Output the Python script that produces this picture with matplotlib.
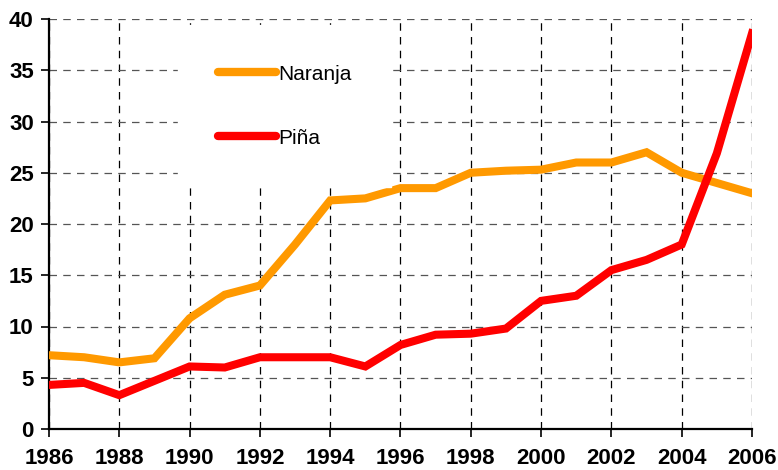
import matplotlib.pyplot as plt

years = list(range(1986, 2007))
naranja = [7.2, 7.0, 6.5, 6.9, 10.8, 13.1, 14.0, 18.0, 22.3, 22.5, 23.5,
           23.5, 25.0, 25.2, 25.3, 26.0, 26.0, 27.0, 25.0, 24.0, 23.0]
pina = [4.3, 4.5, 3.3, 4.7, 6.1, 6.0, 7.0, 7.0, 7.0, 6.1, 8.2,
        9.2, 9.3, 9.8, 12.5, 13.0, 15.5, 16.5, 18.0, 26.9, 38.6]
xticks = list(range(1986, 2007, 2))
yticks = list(range(0, 41, 5))

plt.rcParams['font.family'] = ['Liberation Sans', 'DejaVu Sans']

fig = plt.figure(figsize=(7.78, 4.70), dpi=100)
ax = fig.add_axes([49/778, 41/470, 703/778, 410/470])

ax.plot(years, naranja, color='#FF9900', lw=5.8, label='Naranja',
        solid_joinstyle='miter', zorder=3)
ax.plot(years, pina, color='#FF0000', lw=5.8, label='Piña',
        solid_joinstyle='miter', zorder=3)

ax.set_xlim(1986, 2006)
ax.set_ylim(0, 40)
ax.set_xticks(xticks)
ax.set_yticks(yticks)
ax.tick_params(axis='both', labelsize=16, length=6, width=1.2, direction='out')
ax.tick_params(axis='x', pad=8)
ax.tick_params(axis='y', pad=5)
for lab in ax.get_xticklabels() + ax.get_yticklabels():
    lab.set_fontweight('bold')

ax.set_axisbelow(True)
ax.yaxis.grid(True, color='#555555', linestyle=(0, (6, 5)), lw=0.9)
ax.xaxis.grid(True, color='black', linestyle=(0, (6, 5)), lw=0.9)

for s in ['top', 'right']:
    ax.spines[s].set_visible(False)
for s in ['left', 'bottom']:
    ax.spines[s].set_linewidth(1.6)

leg = ax.legend(loc='upper left', bbox_to_anchor=(178/778, 445/470),
                bbox_transform=fig.transFigure, borderaxespad=0,
                fontsize=15, handlelength=2.8, handletextpad=0.1,
                labelspacing=2.16, borderpad=1.9, frameon=True,
                fancybox=False, facecolor='white', edgecolor='white',
                framealpha=1)
for ln in leg.get_lines():
    ln.set_solid_capstyle('round')
    ln.set_linewidth(6)

plt.savefig('out.png', dpi=100)
